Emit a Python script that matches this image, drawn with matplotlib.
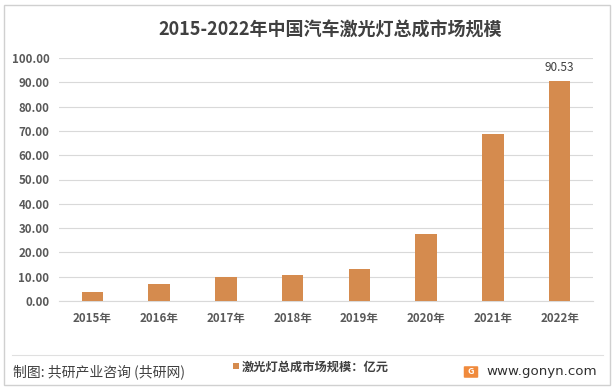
import matplotlib
matplotlib.use("Agg")
import matplotlib.pyplot as plt
from matplotlib.patches import Rectangle, FancyBboxPatch

plt.rcParams['font.family'] = ['Noto Sans CJK SC', 'DejaVu Sans']

years = ["2015年", "2016年", "2017年", "2018年", "2019年", "2020年", "2021年", "2022年"]
values = [3.7, 7.0, 9.9, 10.7, 13.2, 27.6, 68.7, 90.53]
yticks = [0, 10, 20, 30, 40, 50, 60, 70, 80, 90, 100]
title = "2015-2022年中国汽车激光灯总成市场规模"
legend_label = "激光灯总成市场规模：亿元"
source = "制图: 共研产业咨询 (共研网)"
site = "www.gonyn.com"

bar_color = "#D58B4E"
W, H = 615, 390
fig = plt.figure(figsize=(W/100, H/100), dpi=100)
fig.patch.set_facecolor("white")

# outer border
fig.add_artist(Rectangle((4/W, 5/H), 606/W, 380/H, transform=fig.transFigure,
                         fill=False, edgecolor="#D0D0D0", linewidth=1))
# footer separator
fig.add_artist(plt.Line2D([12/W, 603/W], [1-355/H, 1-355/H], transform=fig.transFigure,
                          color="#E0E0E0", linewidth=0.8))

ax = fig.add_axes([59/W, 1-301/H, 534/W, 243/H])
x = range(len(years))
ax.bar(x, values, width=0.32, color=bar_color, zorder=3)
ax.set_xlim(-0.5, len(years)-0.5)
ax.set_ylim(0, 100)
ax.set_yticks(yticks)
ax.set_yticklabels([f"{v:.2f}" for v in yticks], fontsize=8.3, color="#595959", fontweight="bold")
ax.set_xticks(list(x))
ax.set_xticklabels(years, fontsize=8.3, color="#595959", fontweight="bold")
ax.tick_params(axis="both", length=0)
ax.tick_params(axis="y", pad=7)
ax.tick_params(axis="x", pad=8)
ax.grid(axis="y", color="#D9D9D9", linewidth=0.8, zorder=0)
for s in ["top", "right", "left"]:
    ax.spines[s].set_visible(False)
ax.spines["bottom"].set_color("#D9D9D9")
ax.spines["bottom"].set_linewidth(0.8)

ax.annotate(f"{values[-1]:.2f}", (len(values)-1, values[-1]), xytext=(0, 5),
            textcoords="offset points", ha="center", va="bottom", fontsize=8.5,
            color="#404040")

fig.text(330.5/W, 1-30/H, title, ha="center", va="center", fontsize=13,
         fontweight="bold", color="#404040")

# footer
fig.text(13/W, 1-372/H, source, ha="left", va="center", fontsize=10, color="#404040")
fig.add_artist(Rectangle((233/W, 1-369/H), 6/W, 6/H, transform=fig.transFigure,
                         facecolor=bar_color, edgecolor="none"))
fig.text(242/W, 1-367/H, legend_label, ha="left", va="center", fontsize=8.8,
         fontweight="bold", color="#404040")
fig.add_artist(FancyBboxPatch((465/W, 1-377/H), 12/W, 10/H, boxstyle="round,pad=0.002",
                              transform=fig.transFigure, facecolor="#F08A3C", edgecolor="none"))
fig.text(471/W, 1-372/H, "G", ha="center", va="center", fontsize=6.5, color="white",
         fontweight="bold")
fig.text(597/W, 1-371/H, site, ha="right", va="center", fontsize=9.6, color="#303030",
         family=["DejaVu Sans"])

fig.savefig("out.png", dpi=100, facecolor="white")
